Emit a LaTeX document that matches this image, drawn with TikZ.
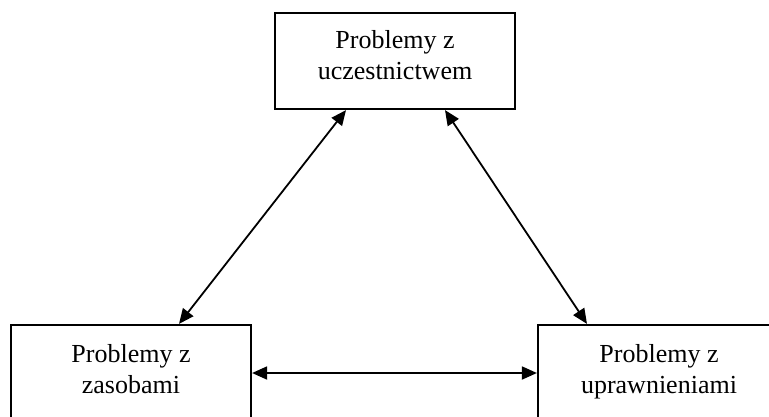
\documentclass[tikz,border=0pt]{standalone}
\usepackage{fontspec}
\setmainfont{Liberation Serif}
\usetikzlibrary{arrows.meta}
\begin{document}
\begin{tikzpicture}[x=1pt,y=-1pt,
  box/.style={draw=black,line width=2.2pt,minimum width=240pt,minimum height=96pt,inner sep=0pt,fill=white},
  txt/.style={anchor=north,inner sep=0pt,align=center,font=\fontsize{26pt}{31.5pt}\selectfont},
  arr/.style={line width=1.8pt,{Triangle[length=15pt,width=13pt]}-{Triangle[length=15pt,width=13pt]}}]
\useasboundingbox (0,0) rectangle (769,416);
\clip (0,0) rectangle (769,416);
\fill[white] (0,0) rectangle (769,416);
\node[box] (top) at (395,61) {};
\node[box] (bl) at (131,373) {};
\node[box,minimum width=242pt] (br) at (659,373) {};
\node[txt] (toptxt) at ([yshift=-18pt]top.north) {Problemy z\\uczestnictwem};
\node[txt] (bltxt) at ([yshift=-20pt]bl.north) {Problemy z\\zasobami};
\node[txt] (brtxt) at ([yshift=-20pt]br.north) {Problemy z\\uprawnieniami};
\draw[arr] ([xshift=48pt]bl.north) -- ([xshift=-49pt]top.south);
\draw[arr] ([xshift=-72pt]br.north) -- ([xshift=50pt]top.south);
\draw[arr] (bl.east) -- (br.west);
\end{tikzpicture}
\end{document}
